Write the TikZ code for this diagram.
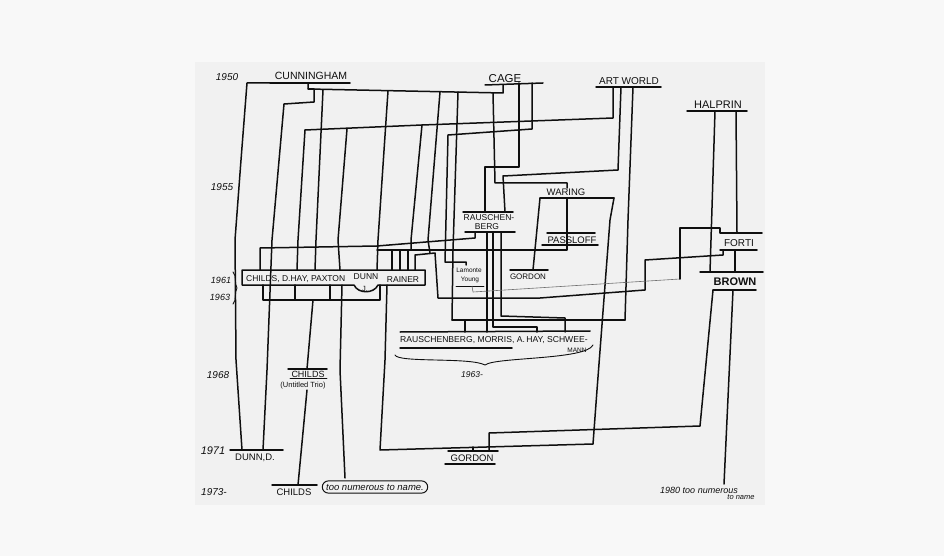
\documentclass[tikz,border=0pt]{standalone}
\usepackage{fontspec}
\setmainfont{Liberation Sans}
\usetikzlibrary{shapes.misc}
\newcommand\hfs[1]{\fontsize{#1}{#1}\selectfont}
\definecolor{outerbg}{RGB}{248,248,248}
\definecolor{paperbg}{RGB}{241,241,241}
\definecolor{ink}{RGB}{15,15,15}
\tikzset{
  ln/.style={line width=1.5pt, draw=ink, line join=round, line cap=round},
  thinln/.style={line width=0.9pt, draw=ink, line join=round, line cap=round},
  faint/.style={line width=0.6pt, draw=ink!60, line join=round},
  lab/.style={inner sep=0pt, text=ink},
  yr/.style={lab, font=\hfs{10}\itshape},
}
\begin{document}
\begin{tikzpicture}[x=1pt,y=-1pt]
\useasboundingbox (0,0) rectangle (944,556);
\fill[outerbg] (0,0) rectangle (944,556);
\fill[paperbg] (195,62) rectangle (765,505);

% ---------- labels ----------
\node[yr] (y1950) at (227,77) {1950};
\node[lab, font=\hfs{10.5}] (cun) at (311,76) {CUNNINGHAM};
\node[lab, font=\hfs{11.5}] (cage) at (505,79) {CAGE};
\node[lab, font=\hfs{10}] (art) at (629,81) {ART WORLD};
\node[lab, font=\hfs{11}] (hal) at (718,105) {HALPRIN};
\node[yr] (y1955) at (222,187) {1955};
\node[lab, font=\hfs{8.5}] (rau) at (489,218) {RAUSCHEN-};
\node[lab, font=\hfs{8.5}] (berg) at (487,227) {BERG};
\node[lab, font=\hfs{9.5}] (war) at (566,192) {WARING};
\node[lab, font=\hfs{9.5}] (pas) at (572,240) {PASSLOFF};
\node[lab, font=\hfs{8}] (gor1) at (528,277) {GORDON};
\node[lab, font=\hfs{6.5}] (lam) at (469,270) {Lamonte};
\node[lab, font=\hfs{6.5}] (young) at (470,280) {Young};
\node[lab, font=\hfs{10}] (forti) at (739,243) {FORTI};
\node[lab, font=\hfs{11}\bfseries] (brown) at (735,282) {BROWN};
\node[yr, font=\hfs{9}\itshape] (y1961) at (221,280) {1961};
\node[yr, font=\hfs{9}\itshape] (y1963) at (220,297) {1963};
\node[lab, font=\hfs{8.5}, anchor=west] (cdp) at (246,279) {CHILDS, D.HAY, PAXTON};
\node[lab, font=\hfs{8.5}] (dunnj) at (366,277) {DUNN};
\node[lab, font=\hfs{7.5}] (jdot) at (365,289) {J.};
\node[lab, font=\hfs{8.5}] (rainer) at (403,280) {RAINER};
\node[yr] (y1968) at (218,375) {1968};
\node[lab, font=\hfs{9}] (chu) at (308,374) {CHILDS};
\node[lab, font=\hfs{7.5}] (trio) at (303,386) {(Untitled Trio)};
\node[lab, font=\hfs{8.6}, anchor=west] (rrow) at (400,340) {RAUSCHENBERG, MORRIS, A.\,HAY, SCHWEE-};
\node[lab, font=\hfs{6.5}] (mann) at (577,350) {MANN};
\node[yr, font=\hfs{8.5}\itshape] (y1963b) at (472,375) {1963-};
\node[yr, font=\hfs{11}\itshape] (y1971) at (213,451) {1971};
\node[lab, font=\hfs{9.5}] (dunnd) at (255,458) {DUNN,D.};
\node[yr] (y1973) at (214,492) {1973-};
\node[lab, font=\hfs{9.5}] (chb) at (294,492) {CHILDS};
\node[lab, font=\hfs{9.5}\itshape, draw=ink, line width=1pt, rounded rectangle, inner xsep=3pt, inner ysep=3pt] (many) at (375,487) {too numerous to name.};
\node[lab, font=\hfs{9.5}] (gor2) at (472,458) {GORDON};
\node[lab, font=\hfs{9}\itshape] (y1980) at (699,490) {1980 too numerous};
\node[lab, font=\hfs{7.5}\itshape] (toname) at (741,497) {to name};

% ---------- childs box ----------
\draw[ln] (242,270) -- (425,270) -- (425,285) -- (378,285)
  .. controls (374,294) and (358,294) .. (354,285) -- (242,285) -- cycle;
\draw[thinln] (233,272) .. controls (237,276) and (234,283) .. (237,288)
  .. controls (234,293) and (237,300) .. (233,304);

% ---------- Cunningham ----------
\draw[ln] (270,83) -- (350,83);
\draw[ln] (270,83) -- (247,83) -- (241,160) -- (235,240) -- (236,360) -- (242,450);
\draw[ln] (308,83) -- (308,89) -- (314,89) -- (314,102) -- (284,104) -- (272,240) -- (267,370) -- (263,450);
\draw[ln] (230,450) -- (283,450);
\draw[ln] (308,89) -- (503,93) -- (503,85);
\draw[ln] (323,90) -- (316,240) -- (315,270);
\draw[ln] (388,91) -- (378,240) -- (377,270);
\draw[ln] (440,92) -- (428,240) -- (430,253);
\draw[ln] (458,92) -- (453,250) -- (452,320);
\draw[ln] (493,93) -- (495,183) -- (567,183) -- (567,188);
\draw[ln] (305,130) -- (422,125) -- (613,118) -- (613,87);
\draw[ln] (305,130) -- (298,240) -- (297,270);
\draw[ln] (347,129) -- (338,240) -- (340,270);
\draw[ln] (422,125) -- (411,240) -- (411,249);

% ---------- Cage ----------
\draw[ln] (485,85) -- (543,83);
\draw[ln] (532,83) -- (532,129) -- (448,135) -- (445,262) -- (466,262) -- (466,265);
\draw[ln] (519,83) -- (519,167) -- (485,167) -- (485,212);

% ---------- Art world ----------
\draw[ln] (596,87) -- (661,87);
\draw[ln] (621,87) -- (618,170) -- (503,176) -- (505,212);
\draw[ln] (633,87) -- (628,220) -- (625,320);

% ---------- Rauschenberg ----------
\draw[ln] (463,212) -- (513,212);
\draw[ln] (465,232) -- (515,232);
\draw[ln] (487,232) -- (487,332);
\draw[ln] (493,232) -- (493,327) -- (537,327) -- (537,332);
\draw[ln] (501,232) -- (501,316) -- (565,318) -- (565,332);
\draw[ln] (452,320) -- (625,320);
\draw[ln] (465,320) -- (465,332);
\draw[ln] (400,332) -- (590,331);
\draw[ln] (400,348) -- (512,348);
\draw[thinln] (395,355) .. controls (398,363) and (470,357) .. (485,365)
  .. controls (495,357) and (586,360) .. (593,345);

% ---------- lines near the box ----------
\draw[ln] (260,270) -- (260,248) -- (377,246) -- (475,238) -- (475,232);
\draw[ln] (377,250) -- (567,250) -- (567,198);
\draw[ln] (392,250) -- (392,270);
\draw[ln] (400,250) -- (400,270);
\draw[ln] (408,250) -- (408,270);
\draw[ln] (415,270) -- (415,255) -- (435,253) -- (438,298) -- (540,298) -- (645,290) -- (645,260) -- (723,255) -- (723,250);
\draw[ln] (263,285) -- (263,300) -- (380,300) -- (380,285);
\draw[ln] (295,285) -- (295,300);
\draw[ln] (330,285) -- (330,300);

% ---------- Waring / Passloff / Gordon ----------
\draw[ln] (540,198) -- (614,198);
\draw[ln] (540,198) -- (533,270);
\draw[ln] (510,270) -- (548,270);
\draw[ln] (614,198) -- (610,220) -- (597,390) -- (593,444) -- (380,450) -- (385,360) -- (387,285);
\draw[ln] (547,233) -- (595,233);
\draw[ln] (542,245) -- (598,245);

% ---------- Lamonte Young ----------
\draw[thinln] (456,286) -- (484,286);
\draw[faint] (472,286) -- (473,292) -- (680,279);
\draw[ln] (680,279) -- (680,228) -- (720,228) -- (720,233) -- (762,233);

% ---------- Halprin / Forti / Brown ----------
\draw[ln] (687,111) -- (747,111);
\draw[ln] (736,111) -- (737,233);
\draw[ln] (715,111) -- (710,272);
\draw[ln] (720,250) -- (757,250);
\draw[ln] (735,250) -- (735,272);
\draw[ln] (700,272) -- (763,272);
\draw[ln] (713,290) -- (756,290);
\draw[ln] (713,290) -- (700,426) -- (489,433) -- (489,451);
\draw[ln] (733,290) -- (724,484);

% ---------- bottom ----------
\draw[ln] (448,451) -- (498,451);
\draw[ln] (473,447) -- (473,451);
\draw[ln] (445,464) -- (495,464);
\draw[ln] (313,300) -- (307,369);
\draw[ln] (288,369) -- (327,369);
\draw[thinln] (290,378) -- (327,378);
\draw[ln] (307,390) -- (298,485);
\draw[ln] (272,485) -- (317,485);
\draw[ln] (342,285) -- (340,370) -- (345,478);
\end{tikzpicture}
\end{document}
